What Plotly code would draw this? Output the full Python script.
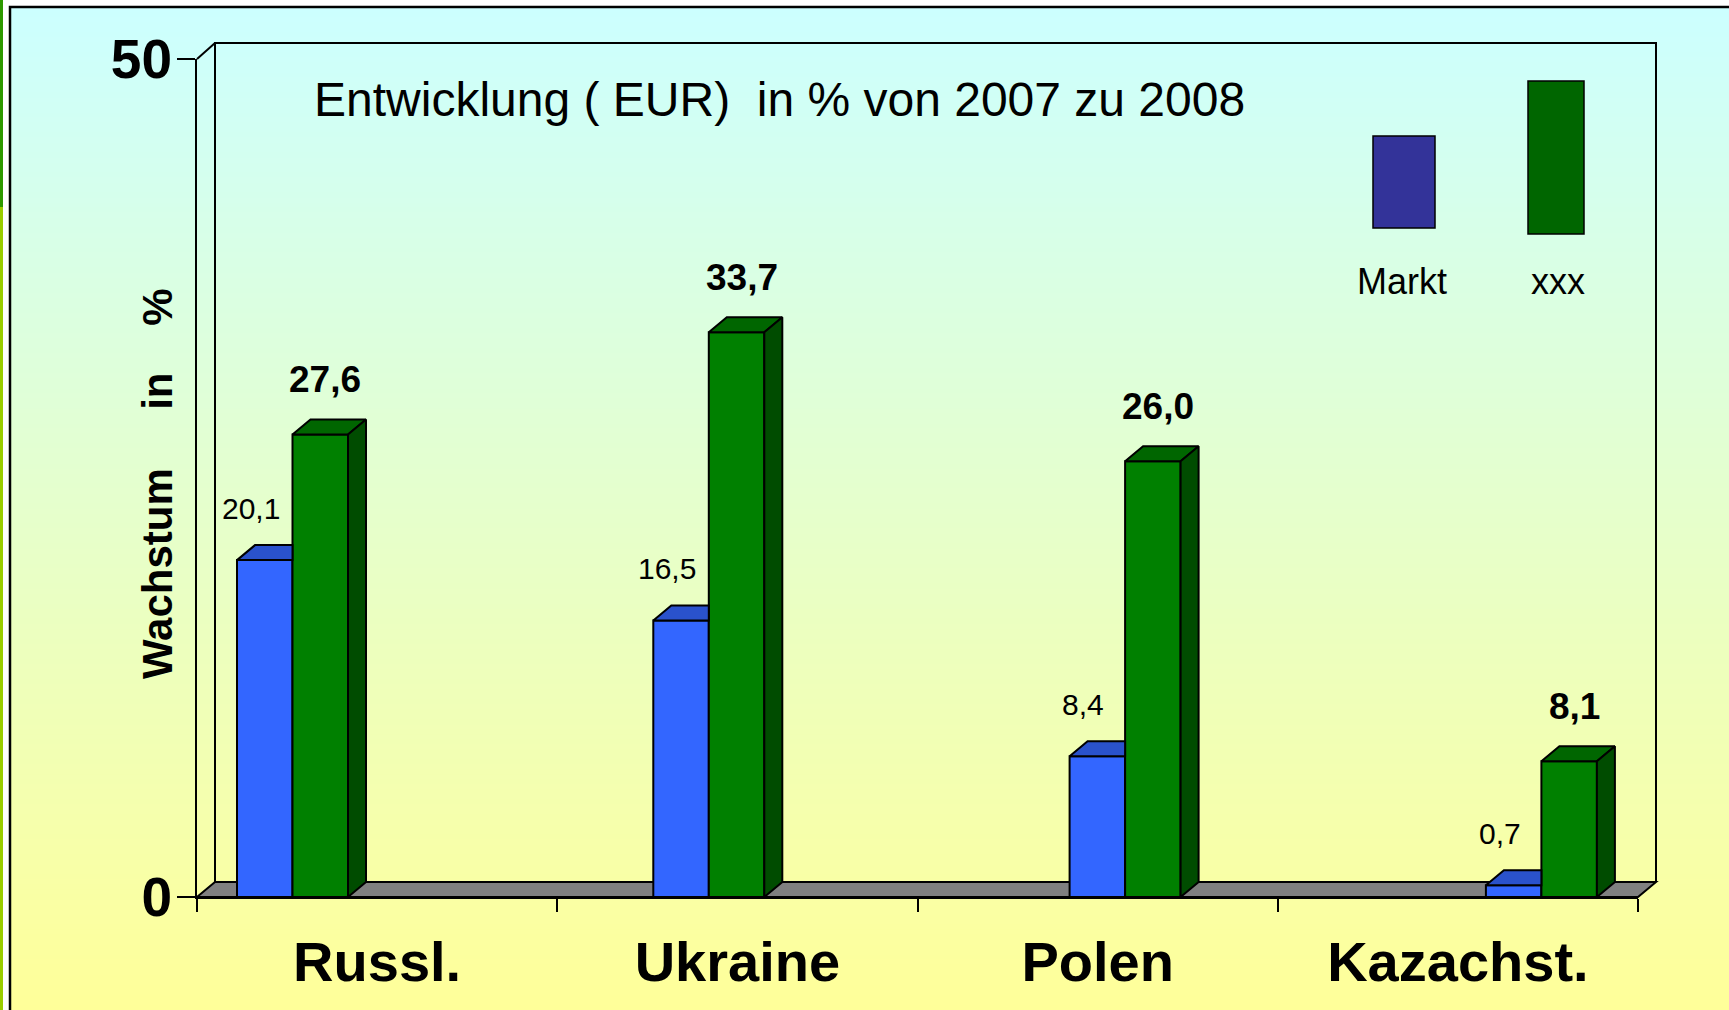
import plotly.graph_objects as go

categories = ['Russl.', 'Ukraine', 'Polen', 'Kazachst.']
series_names = ['Markt', 'xxx']
markt = [20.1, 16.5, 8.4, 0.7]
xxx = [27.6, 33.7, 26.0, 8.1]
y_ticks = [0, 50]

title_text = 'Entwicklung ( EUR)  in % von 2007 zu 2008'
y_title = 'Wachstum\u00a0\u00a0\u00a0\u00a0\u00a0in\u00a0\u00a0\u00a0\u00a0%'

W, H = 1729, 1010
FONT = 'Liberation Sans, Arial, sans-serif'


def px(x):
    return x / W


def py(y):
    return 1 - y / H


# front edge of the 3d box (pixels) and depth offset of the back plane
X_LEFT, X_RIGHT = 197, 1638
Y_ZERO, Y_TOP = 897, 59
DX_PX, DY_PX = 18, 15

# bars sit on their own axis: one group every ~416 px, first centre at 292.5
unit = 416.3
x2_lo = (X_LEFT - 292.5) / unit
x2_hi = x2_lo + (X_RIGHT - X_LEFT) / unit
bw = 55.5 / unit
dx = DX_PX / unit
dy = DY_PX * (y_ticks[-1] - y_ticks[0]) / (Y_ZERO - Y_TOP)

idx = list(range(len(categories)))

fig = go.Figure()

# invisible trace so the category axis exists
fig.add_trace(go.Scatter(x=categories, y=[0] * len(categories), mode='markers',
                         marker=dict(opacity=0), hoverinfo='skip', showlegend=False))

# front faces
fig.add_trace(go.Bar(x=idx, y=markt, offset=-bw, width=bw, xaxis='x2', yaxis='y',
                     marker=dict(color='#3366FF', line=dict(color='black', width=2)),
                     name=series_names[0], showlegend=False))
fig.add_trace(go.Bar(x=idx, y=xxx, offset=0, width=bw, xaxis='x2', yaxis='y',
                     marker=dict(color='#008000', line=dict(color='black', width=2)),
                     name=series_names[1], showlegend=False))


def faces(kind, vals):
    xs, ys = [], []
    for i, v in zip(idx, vals):
        if kind == 'blue_top':  # right part hidden behind the green bar
            px_ = [i - bw, i, i, i - bw + dx, i - bw]
            py_ = [v, v, v + dy, v + dy, v]
        elif kind == 'green_top':
            px_ = [i, i + bw, i + bw + dx, i + dx, i]
            py_ = [v, v, v + dy, v + dy, v]
        else:
            px_ = [i + bw, i + bw, i + bw + dx, i + bw + dx, i + bw]
            py_ = [0, v, v + dy, dy, 0]
        xs += px_ + [None]
        ys += py_ + [None]
    return xs, ys


for kind, vals, col in [('blue_top', markt, '#2A52CC'),
                        ('green_top', xxx, '#006600'),
                        ('green_side', xxx, '#004C00')]:
    xs, ys = faces(kind, vals)
    fig.add_trace(go.Scatter(x=xs, y=ys, xaxis='x2', yaxis='y', mode='lines',
                             fill='toself', fillcolor=col,
                             line=dict(color='black', width=2),
                             hoverinfo='skip', showlegend=False))

shapes = []

# gradient background inside the frame
n = 200
top, bot = 7, H
for k in range(n):
    t = k / (n - 1)
    r = int(round(204 + 51 * t))
    b = int(round(255 - 102 * t))
    y0 = top + (bot - top) * k / n
    y1 = top + (bot - top) * (k + 1) / n + 1
    shapes.append(dict(type='rect', xref='paper', yref='paper', layer='below',
                       x0=px(10), x1=1, y0=py(y1), y1=py(y0),
                       fillcolor=f'rgb({r},255,{b})', line=dict(width=0)))

# green strip on the far left
shapes.append(dict(type='rect', xref='paper', yref='paper', layer='below',
                   x0=0, x1=px(3), y0=py(207), y1=1,
                   fillcolor='#2E9900', line=dict(width=0)))
shapes.append(dict(type='rect', xref='paper', yref='paper', layer='below',
                   x0=0, x1=px(3), y0=0, y1=py(207),
                   fillcolor='#9ACD00', line=dict(width=0)))

# outer frame
shapes.append(dict(type='path', xref='paper', yref='paper', layer='below',
                   path=f'M {px(10)},0 L {px(10)},{py(7)} L 1,{py(7)}',
                   line=dict(color='black', width=2.5)))

# floor
fx = [X_LEFT, X_RIGHT, X_RIGHT + DX_PX, X_LEFT + DX_PX]
fy = [Y_ZERO, Y_ZERO, Y_ZERO - DY_PX, Y_ZERO - DY_PX]
floor = 'M ' + ' L '.join(f'{px(a)},{py(b)}' for a, b in zip(fx, fy)) + ' Z'
shapes.append(dict(type='path', xref='paper', yref='paper', layer='below',
                   path=floor, fillcolor='#808080',
                   line=dict(color='black', width=2)))

# back wall and left top edge
bx0, bx1 = X_LEFT + DX_PX, X_RIGHT + DX_PX
by0, by1 = Y_ZERO - DY_PX, Y_TOP - DY_PX - 1
wall = (f'M {px(bx0)},{py(by0)} L {px(bx0)},{py(by1)} L {px(bx1)},{py(by1)} '
        f'L {px(bx1)},{py(by0)}')
shapes.append(dict(type='path', xref='paper', yref='paper', layer='below',
                   path=wall, line=dict(color='black', width=2)))
shapes.append(dict(type='line', xref='paper', yref='paper', layer='below',
                   x0=px(X_LEFT), y0=py(Y_TOP), x1=px(bx0), y1=py(by1),
                   line=dict(color='black', width=2)))

# legend glyphs
shapes.append(dict(type='rect', xref='paper', yref='paper',
                   x0=px(1373), x1=px(1435), y0=py(228), y1=py(136),
                   fillcolor='#333399', line=dict(color='black', width=1.5)))
shapes.append(dict(type='rect', xref='paper', yref='paper',
                   x0=px(1528), x1=px(1584), y0=py(234), y1=py(81),
                   fillcolor='#006600', line=dict(color='black', width=1.5)))

annotations = []


def fmt(v):
    return f'{v:.1f}'.replace('.', ',')


def note(**kw):
    kw.setdefault('showarrow', False)
    kw.setdefault('xanchor', 'center')
    kw.setdefault('yanchor', 'middle')
    annotations.append(kw)


for i, v in zip(idx, markt):
    note(xref='x2', yref='y', x=i - bw / 2, y=v, text=fmt(v),
         xshift=-14, yshift=52,
         font=dict(family=FONT, size=30, color='black'))
for i, v in zip(idx, xxx):
    note(xref='x2', yref='y', x=i + bw / 2, y=v, text=fmt(v),
         xshift=5, yshift=55,
         font=dict(family=FONT, size=37, color='black', weight='bold'))

note(xref='paper', yref='paper', x=px(779), y=py(100), text=title_text,
     font=dict(family=FONT, size=48, color='black'))
note(xref='paper', yref='paper', x=px(157), y=py(484), text=y_title, textangle=-90,
     font=dict(family=FONT, size=42, color='black', weight='bold'))
note(xref='paper', yref='paper', x=px(1402), y=py(281), text=series_names[0],
     font=dict(family=FONT, size=36, color='black'))
note(xref='paper', yref='paper', x=px(1558), y=py(281), text=series_names[1],
     font=dict(family=FONT, size=36, color='black'))

fig.update_layout(
    width=W, height=H,
    margin=dict(l=0, r=0, t=0, b=0, autoexpand=False),
    paper_bgcolor='white',
    plot_bgcolor='rgba(0,0,0,0)',
    barmode='overlay',
    showlegend=False,
    shapes=shapes,
    annotations=annotations,
    xaxis=dict(type='category', categoryorder='array', categoryarray=categories,
               range=[-0.5, len(categories) - 0.5], tickson='boundaries',
               ticks='outside', ticklen=13, tickwidth=2, tickcolor='black',
               showline=True, linewidth=2, linecolor='black', showgrid=False,
               ticklabelstandoff=15, automargin=False,
               tickfont=dict(family=FONT, size=56, color='black', weight='bold'),
               domain=[px(X_LEFT), px(X_RIGHT)], anchor='y', fixedrange=True),
    xaxis2=dict(overlaying='x', range=[x2_lo, x2_hi], visible=False,
                anchor='y', fixedrange=True, automargin=False),
    yaxis=dict(range=[y_ticks[0], y_ticks[-1]], tickvals=y_ticks,
               ticks='outside', ticklen=18, tickwidth=2, tickcolor='black',
               showline=True, linewidth=2, linecolor='black',
               showgrid=False, zeroline=False, automargin=False,
               ticklabelstandoff=-6,
               tickfont=dict(family=FONT, size=55, color='black', weight='bold'),
               domain=[py(Y_ZERO), py(Y_TOP)], anchor='x', fixedrange=True),
)

fig.write_html('out.html', config={'displayModeBar': False},
               post_script="document.body.style.margin='0';document.body.style.overflow='hidden';")
